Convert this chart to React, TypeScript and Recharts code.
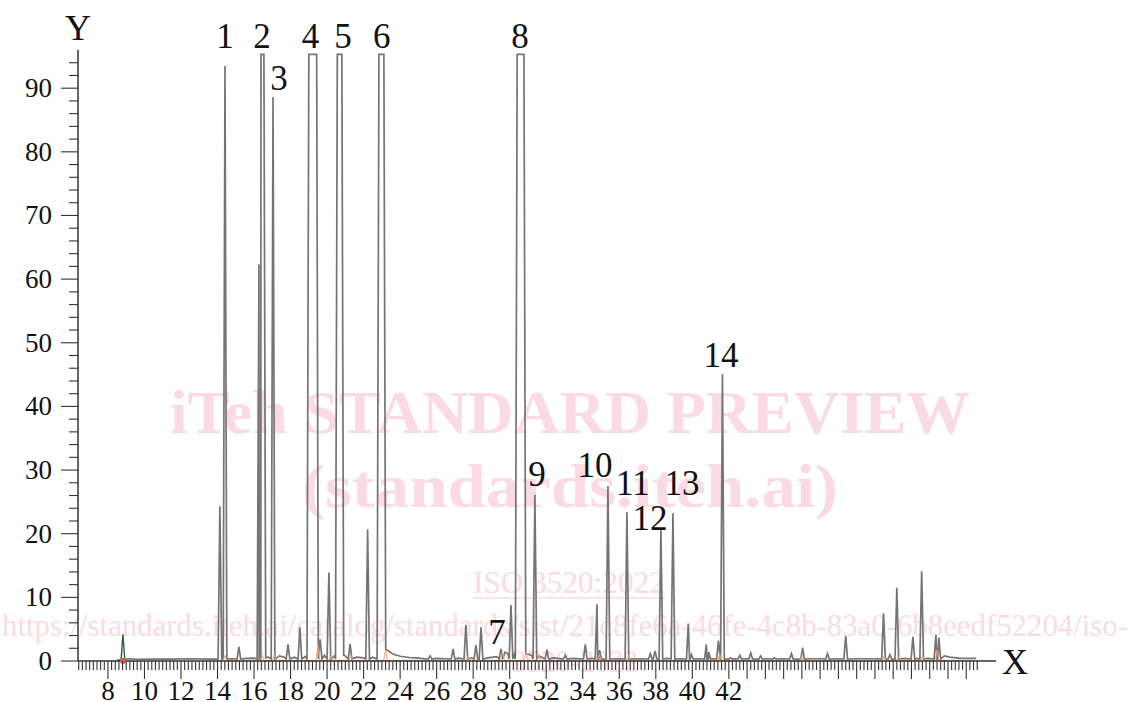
import { LineChart, Line, XAxis, YAxis, ReferenceDot } from 'recharts';

// resolved peaks: retention time (min) and response read at the apex
const peakTimes = [
  14.13, 14.41, 15.17, 16.27, 17.04, 17.86, 18.51, 19.62, 20.1, 21.26, 22.22,
  25.64, 26.9, 27.6, 28.15, 28.43, 29.52, 30.07, 31.38, 32.04, 33.04, 34.14,
  34.78, 34.92, 35.38, 36.42, 37.7, 37.96, 38.28, 38.94, 39.78, 39.95, 40.77,
  40.9, 41.43, 41.65, 42.1, 42.6, 43.2, 43.74, 44.5, 45.43, 46.04, 47.4, 48.4,
  50.47, 50.82, 51.2, 52.08, 52.56, 53.34, 53.5,
];
const peakHeights = [
  24.3, 93.5, 2.2, 62.3, 88.6, 2.6, 5.3, 3.4, 13.9, 2.7, 20.7,
  0.8, 1.9, 5.7, 2.5, 5.3, 1.9, 8.8, 26.1, 1.8, 0.9, 2.6,
  8.9, 1.7, 27.5, 23.4, 1.15, 1.6, 20.7, 23.2, 5.9, 1.0, 2.6,
  1.4, 3.2, 45.1, 0.5, 0.9, 1.25, 0.8, 0.5, 1.15, 2.1, 1.15, 3.9,
  7.5, 1.0, 11.5, 3.8, 14.1, 4.1, 3.7,
];

// peaks 2, 4, 5, 6 and 8 run off scale: start / end of the flat top, level after the peak
const offScaleStart = [16.38, 19.0, 20.56, 22.84, 30.41];
const offScaleEnd = [16.54, 19.43, 20.81, 23.11, 30.78];
const offScaleAfter = [0.5, 1.0, 0.9, 1.8, 1.2];
const offScaleTop = 95.3;

// baseline between peaks
const baseTimes = [
  8.5, 9.2, 9.6, 10.5, 11.5, 12.5, 13.5, 13.9, 14.75, 15.6, 16.0, 16.8, 17.4,
  17.65, 18.2, 18.8, 19.85, 20.4, 21.0, 21.6, 22.0, 22.5, 23.35, 23.6, 24.0,
  24.5, 25.0, 26.0, 26.5, 27.2, 27.9, 28.8, 29.3, 29.75, 29.9, 30.25, 30.95,
  31.2, 31.6, 32.4, 33.5, 34.5, 35.9, 37.3, 38.6, 39.4, 40.3, 41.1, 42.35,
  43.0, 44.0, 45.0, 46.5, 47.0, 47.9, 49.0, 49.5, 50.0, 51.6, 52.3, 52.9,
  53.8, 54.1, 54.6, 55.0, 55.55,
];
const baseLevels = [
  0.15, 0.35, 0.25, 0.3, 0.3, 0.35, 0.3, 0.3, 0.35, 0.4, 0.45, 0.6, 0.8,
  0.6, 0.6, 0.7, 0.9, 0.8, 0.8, 0.6, 0.5, 0.6, 1.6, 1.1, 0.75,
  0.55, 0.45, 0.4, 0.35, 0.45, 0.5, 0.5, 0.7, 1.4, 1.1, 1.0, 1.1,
  0.9, 0.8, 0.5, 0.4, 0.4, 0.35, 0.35, 0.4, 0.35, 0.35, 0.35, 0.35,
  0.35, 0.35, 0.35, 0.35, 0.35, 0.35, 0.35, 0.35, 0.35, 0.4, 0.4, 0.4,
  0.8, 0.6, 0.45, 0.4, 0.4,
];

// second (orange) trace, only its small bumps show
const orangeTimes = [14.4, 16.45, 17.1, 19.5, 20.2, 21.3, 23.2, 27.7, 29.6, 30.9, 31.6, 34.9, 36.5, 41.5, 46.0, 50.5, 51.3, 52.6, 53.4];
const orangeHeights = [0.8, 0.9, 1.0, 2.6, 0.7, 0.8, 1.8, 0.6, 1.5, 1.4, 0.9, 1.0, 0.8, 1.0, 0.7, 0.8, 0.7, 0.8, 1.8];

// early green spike
const greenTimes = [8.72, 8.82, 8.92];
const greenLevels = [0.2, 4.2, 0.2];

const peakNames = ['1', '2', '3', '4', '5', '6', '7', '8', '9', '10', '11', '12', '13', '14'];
const nameTimes = [14.41, 16.44, 17.36, 19.09, 20.87, 23.0, 29.3, 30.56, 31.5, 34.67, 36.75, 37.68, 39.43, 41.57];
const nameLevels = [98.3, 98.3, 91.7, 98.3, 98.3, 98.3, 4.55, 98.3, 29.5, 30.8, 28.0, 22.6, 28.0, 48.1];

const xTickLabels = [8, 10, 12, 14, 16, 18, 20, 22, 24, 26, 28, 30, 32, 34, 36, 38, 40, 42];
const yTickLabels = [0, 10, 20, 30, 40, 50, 60, 70, 80, 90];

const X_MIN = 6.36;
const X_MAX = 56.63;
const HALF = 0.1;
const FOOT = 0.3;
const FONT = '"Liberation Serif", serif';

type Pt = { t: number; v: number };

function peakTrace(times: number[], heights: number[], foot: number): Pt[] {
  const pts: Pt[] = [];
  times.forEach((t, i) => {
    pts.push({ t: t - HALF, v: foot }, { t, v: heights[i] }, { t: t + HALF, v: foot });
  });
  return pts;
}

const mainPts: Pt[] = [
  ...peakTrace(peakTimes, peakHeights, FOOT),
  ...baseTimes.map((t, i) => ({ t, v: baseLevels[i] })),
];
offScaleStart.forEach((s, i) => {
  mainPts.push(
    { t: s - HALF, v: FOOT },
    { t: s, v: offScaleTop },
    { t: offScaleEnd[i], v: offScaleTop },
    { t: offScaleEnd[i] + HALF, v: offScaleAfter[i] },
  );
});
mainPts.sort((a, b) => a.t - b.t);

const orangePts: Pt[] = [
  { t: 13.8, v: 0.1 },
  ...peakTrace(orangeTimes, orangeHeights, 0.1),
  { t: 55.4, v: 0.1 },
].sort((a, b) => a.t - b.t);

const greenPts: Pt[] = greenTimes.map((t, i) => ({ t, v: greenLevels[i] }));

// every 0.2 min a small tick
const xMinorTicks: number[] = [];
for (let k = 32; k <= 278; k++) xMinorTicks.push(Math.round(k * 2) / 10);
const yMinorTicks: number[] = [];
for (let k = 0; k <= 47; k++) yMinorTicks.push(k * 2);

// eslint-disable-next-line @typescript-eslint/no-explicit-any
function XTick(props: any) {
  const { x, y, payload } = props;
  const v = Math.round(payload.value * 10) / 10;
  const labeled = xTickLabels.includes(v);
  const major = labeled || (v > 42 && Number.isInteger(v));
  return (
    <g>
      <line x1={x} x2={x} y1={y} y2={y + (major ? 18 : 9)} stroke="#333" strokeWidth={1.1} />
      {labeled && (
        <text x={x} y={y + 39} textAnchor="middle" fontSize={27} fontFamily={FONT} fill="#111">
          {v}
        </text>
      )}
    </g>
  );
}

// eslint-disable-next-line @typescript-eslint/no-explicit-any
function YTick(props: any) {
  const { x, y, payload } = props;
  const v = payload.value;
  const major = yTickLabels.includes(v);
  return (
    <g>
      <line x1={x - (major ? 17 : 9)} x2={x} y1={y} y2={y} stroke="#333" strokeWidth={1.1} />
      {major && (
        <text x={x - 26} y={y} dy={9} textAnchor="end" fontSize={27} fontFamily={FONT} fill="#111">
          {v}
        </text>
      )}
    </g>
  );
}

const PINK = '#fadbe3';

function Watermark() {
  return (
    <svg width={1131} height={702} style={{ position: 'absolute', left: 0, top: 0 }}>
      <g fill={PINK} fontFamily={FONT}>
        <text x={170} y={433} fontSize={62} fontWeight="bold" textLength={800} lengthAdjust="spacingAndGlyphs">
          iTeh STANDARD PREVIEW
        </text>
        <text x={302} y={507} fontSize={62} fontWeight="bold" textLength={536} lengthAdjust="spacingAndGlyphs">
          (standards.iteh.ai)
        </text>
        <text x={473} y={593} fontSize={32} textLength={192} lengthAdjust="spacingAndGlyphs">
          ISO 3520:2022
        </text>
        <text x={2} y={636} fontSize={32} textLength={1126} lengthAdjust="spacingAndGlyphs">
          https://standards.iteh.ai/catalog/standards/sist/21c8fe6a-46fe-4c8b-83a0-6b8eedf52204/iso-
        </text>
        <text x={512} y={672} fontSize={32} textLength={126} lengthAdjust="spacingAndGlyphs">
          3520-2022
        </text>
      </g>
      <line x1={473} x2={665} y1={598} y2={598} stroke={PINK} strokeWidth={1.5} />
    </svg>
  );
}

export default function App() {
  return (
    <div style={{ position: 'absolute', left: 0, top: 0, width: 1131, height: 702, background: '#fff' }}>
      <Watermark />
      <div style={{ position: 'absolute', left: 0, top: 0 }}>
        <LineChart
          width={1131}
          height={702}
          margin={{ top: 50, right: 135, bottom: 0, left: 18 }}
          style={{ fontFamily: FONT }}
        >
          <XAxis
            type="number"
            dataKey="t"
            domain={[X_MIN, X_MAX]}
            allowDataOverflow
            ticks={xMinorTicks}
            interval={0}
            tickSize={0}
            tickMargin={0}
            height={41}
            tick={(p) => <XTick {...p} />}
            axisLine={{ stroke: '#333', strokeWidth: 1.5 }}
          />
          <YAxis
            type="number"
            domain={[0, 96]}
            allowDataOverflow
            ticks={yMinorTicks}
            interval={0}
            tickSize={0}
            tickMargin={0}
            width={60}
            tick={(p) => <YTick {...p} />}
            axisLine={{ stroke: '#333', strokeWidth: 1.5 }}
          />
          <Line
            data={mainPts}
            dataKey="v"
            type="linear"
            stroke="#747474"
            strokeWidth={1.7}
            dot={false}
            isAnimationActive={false}
          />
          <Line
            data={orangePts}
            dataKey="v"
            type="linear"
            stroke="#f0a07a"
            strokeOpacity={0.8}
            strokeWidth={1.2}
            dot={false}
            isAnimationActive={false}
          />
          <Line
            data={greenPts}
            dataKey="v"
            type="linear"
            stroke="#2f5e34"
            strokeWidth={1.4}
            dot={false}
            isAnimationActive={false}
          />
          <ReferenceDot x={8.82} y={0} r={3} fill="#e05a50" stroke="none" ifOverflow="visible" />
          {peakNames.map((name, i) => (
            <ReferenceDot
              key={name}
              x={nameTimes[i]}
              y={nameLevels[i]}
              r={0}
              fill="none"
              stroke="none"
              ifOverflow="visible"
              label={{ value: name, position: 'center', fontSize: 35, fill: '#111', fontFamily: FONT }}
            />
          ))}
          <ReferenceDot
            x={X_MIN}
            y={99.6}
            r={0}
            fill="none"
            stroke="none"
            ifOverflow="visible"
            label={{ value: 'Y', position: 'center', fontSize: 36, fill: '#111', fontFamily: FONT }}
          />
          <ReferenceDot
            x={57.67}
            y={0}
            r={0}
            fill="none"
            stroke="none"
            ifOverflow="visible"
            label={{ value: 'X', position: 'center', fontSize: 36, fill: '#111', fontFamily: FONT }}
          />
        </LineChart>
      </div>
    </div>
  );
}
